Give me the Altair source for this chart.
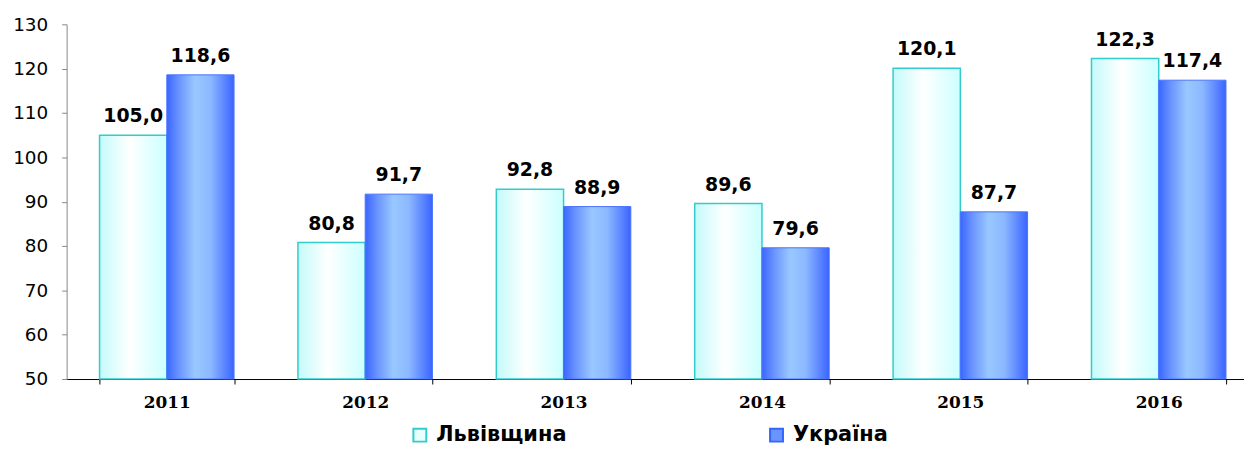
import altair as alt
import pandas as pd

years = ["2011", "2012", "2013", "2014", "2015", "2016"]
series_names = ["Львівщина", "Україна"]
lviv = [105.0, 80.8, 92.8, 89.6, 120.1, 122.3]
ukr = [118.6, 91.7, 88.9, 79.6, 87.7, 117.4]
y_ticks = [50, 60, 70, 80, 90, 100, 110, 120, 130]

rows = []
for i, yr in enumerate(years):
    rows.append({"year": yr, "series": series_names[0], "value": lviv[i]})
    rows.append({"year": yr, "series": series_names[1], "value": ukr[i]})
df = pd.DataFrame(rows)

grad_lviv = alt.Gradient(
    gradient="linear", x1=0, x2=1, y1=0, y2=0,
    stops=[
        alt.GradientStop(color="#C4FAFA", offset=0),
        alt.GradientStop(color="#FFFFFF", offset=0.45),
        alt.GradientStop(color="#CCFFFF", offset=1),
    ],
)
grad_ukr = alt.Gradient(
    gradient="linear", x1=0, x2=1, y1=0, y2=0,
    stops=[
        alt.GradientStop(color="#3A66FF", offset=0),
        alt.GradientStop(color="#6A94FF", offset=0.18),
        alt.GradientStop(color="#99C8FF", offset=0.42),
        alt.GradientStop(color="#8CB8FF", offset=0.65),
        alt.GradientStop(color="#3A64FF", offset=1),
    ],
)

x_enc = alt.X(
    "year:N", sort=years,
    scale=alt.Scale(paddingInner=0.322, paddingOuter=0.166),
    axis=alt.Axis(title=None, labelAngle=0, labelFont="DejaVu Serif",
                  labelFontWeight="bold", labelFontSize=17, labelColor="black",
                  domainColor="black", tickColor="black", tickSize=5,
                  tickBand="extent", labelPadding=11),
)
xoff = alt.XOffset("series:N", sort=series_names, scale=alt.Scale(domain=series_names))
y_enc = alt.Y(
    "value:Q",
    scale=alt.Scale(domain=[50, 130], nice=False, zero=False),
    axis=alt.Axis(values=y_ticks, title=None, grid=False, labelFont="DejaVu Sans",
                  labelFontSize=18.5, labelColor="black", domainColor="#888888",
                  tickColor="#888888", tickSize=5, labelPadding=14),
)

base = alt.Chart(df).encode(x=x_enc, xOffset=xoff, y=y_enc)

lviv_bars = base.transform_filter(alt.datum.series == series_names[0]).mark_bar(
    fill=grad_lviv, stroke="#33CCCC", strokeWidth=1.5
).encode(y2=alt.datum(50))

ukr_bars = base.transform_filter(alt.datum.series == series_names[1]).mark_bar(
    fill=grad_ukr, stroke="#4A74FF", strokeWidth=1
).encode(y2=alt.datum(50))

labels = base.transform_calculate(
    label="replace(format(datum.value, '.1f'), '.', ',')"
).mark_text(
    font="DejaVu Sans", fontWeight="bold", fontSize=19, dy=-13,
    baseline="alphabetic", color="black"
).encode(text="label:N")

leg = alt.Legend(
    orient="none", legendX=345, legendY=403, direction="horizontal", title=None,
    labelFont="DejaVu Sans", labelFontWeight="bold", labelFontSize=21,
    labelColor="black", symbolSize=169, symbolStrokeWidth=2, symbolOpacity=1,
    columnPadding=200, labelOffset=6, symbolType="square",
)
legend_layer = base.mark_point(shape="square", filled=True, opacity=0).encode(
    fill=alt.Fill("series:N", scale=alt.Scale(domain=series_names, range=["#E6FFFF", "#6A94FF"]), legend=leg),
    stroke=alt.Stroke("series:N", scale=alt.Scale(domain=series_names, range=["#33CCCC", "#3366FF"]), legend=leg),
)

chart = alt.layer(lviv_bars, ukr_bars, labels, legend_layer).properties(
    width=1200, height=357,
    autosize=alt.AutoSizeParams(type="none"),
    padding={"left": 59, "top": 15, "right": -15, "bottom": 70},
).configure_view(stroke=None)

chart.save("out.html", embed_options={"renderer": "svg", "actions": False})
